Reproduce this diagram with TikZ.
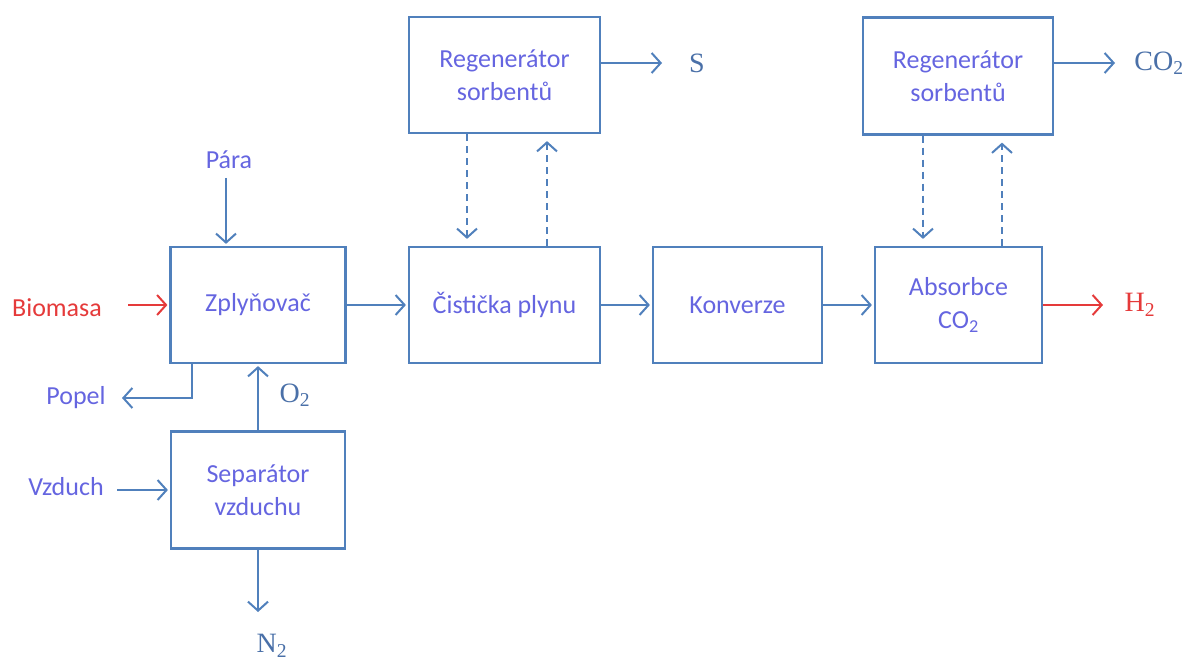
\documentclass[tikz,border=0pt]{standalone}
\usepackage{fontspec}
\setmainfont{Carlito}
\newfontfamily\chemfont{Liberation Serif}
\usetikzlibrary{arrows.meta}
\definecolor{lineblue}{HTML}{5080BC}
\definecolor{labelblue}{HTML}{6565E0}
\definecolor{chemblue}{HTML}{4A70A8}
\definecolor{flowred}{HTML}{E53A3A}

\begin{document}
\begin{tikzpicture}[x=1pt,y=-1pt,
  unit/.style={draw=lineblue, line width=2.2pt, text=labelblue, align=center,
    font=\fontsize{26}{33}\selectfont, inner sep=0pt},
  lbl/.style={text=labelblue, font=\fontsize{26}{30}\selectfont, inner sep=0pt},
  chem/.style={text=chemblue, font=\chemfont\fontsize{28}{30}\selectfont, inner sep=0pt},
  flow/.style={draw=lineblue, line width=2pt, shorten >=2pt,
    -{Straight Barb[length=9pt,width=20pt,line width=2pt]}},
  feed/.style={flow, draw=flowred},
  loop/.style={flow, dash pattern=on 7pt off 5pt, shorten >=7pt}]

\useasboundingbox (0,0) rectangle (1187,660);

% process units
\node[unit, minimum width=175pt, minimum height=116pt] (zpl)  at (258,305) {Zplyňovač};
\node[unit, minimum width=191pt, minimum height=116pt] (cist) at (504.5,305) {Čistička plynu};
\node[unit, minimum width=169pt, minimum height=116pt] (konv) at (737.5,305) {Konverze};
\node[unit, minimum width=167pt, minimum height=116pt] (abs)  at (958.5,305) {\raisebox{-4pt}{Absorbce}\\\raisebox{-4pt}{CO\textsubscript{2}}};
\node[unit, minimum width=191pt, minimum height=116pt] (reg1) at (504.5,75) {Regenerátor\\sorbentů};
\node[unit, minimum width=190pt, minimum height=117pt] (reg2) at (958,76) {Regenerátor\\sorbentů};
\node[unit, minimum width=174pt, minimum height=117pt] (sep)  at (258,490) {Separátor\\vzduchu};

% stream labels
\node[lbl] (para) at (229,160) {Pára};
\node[lbl, text=flowred] (bio) at (57,308) {Biomasa};
\node[lbl] (popel) at (76,398) {Popel};
\node[lbl] (vzd) at (66,487) {Vzduch};
\node[chem] (o2) at (295,395) {O\textsubscript{2}};
\node[chem] (n2) at (272,646) {N\textsubscript{2}};
\node[chem] (s) at (697,63) {S};
\node[chem] (co2) at (1159,63) {CO\textsubscript{2}};
\node[chem, text=flowred] (h2) at (1140,305) {H\textsubscript{2}};

% free ends of the stream lines
\coordinate (paratop) at (226,178);
\coordinate (paradrop) at (226,0);
\coordinate (biostart) at (128,305);
\coordinate (ashdrop) at (192,0);
\coordinate (ashend) at (120,398);
\coordinate (airstart) at (117,490);
\coordinate (n2end) at (258,614);
\coordinate (send) at (664,63);
\coordinate (co2end) at (1117,63);
\coordinate (h2end) at (1105,305);
\coordinate (d1) at (467,0);
\coordinate (u1) at (547,0);
\coordinate (d2) at (923,0);
\coordinate (u2) at (1002,0);

% gasifier inputs and outputs
\draw[flow] (paratop) -- (zpl.north -| paradrop);
\draw[feed] (biostart) -- (zpl.west);
\draw[flow] (zpl.south -| ashdrop) |- (ashend);
\draw[flow] (sep.north) -- (zpl.south);
\draw[flow] (airstart) -- (sep.west);
\draw[flow] (sep.south) -- (n2end);

% main gas line
\draw[flow] (zpl.east) -- (cist.west);
\draw[flow] (cist.east) -- (konv.west);
\draw[flow] (konv.east) -- (abs.west);
\draw[feed] (abs.east) -- (h2end);

% sorbent regeneration loops
\draw[flow] (reg1.east |- send) -- (send);
\draw[flow] (reg2.east |- co2end) -- (co2end);
\draw[loop] (reg1.south -| d1) -- (cist.north -| d1);
\draw[loop] (cist.north -| u1) -- (reg1.south -| u1);
\draw[loop] (reg2.south -| d2) -- (abs.north -| d2);
\draw[loop] (abs.north -| u2) -- (reg2.south -| u2);

\end{tikzpicture}
\end{document}
